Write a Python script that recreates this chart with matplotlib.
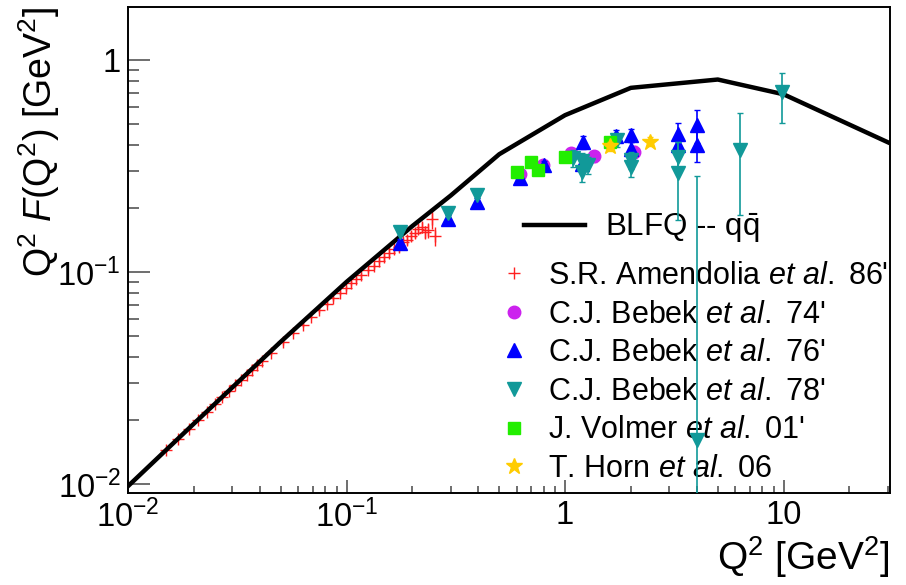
import matplotlib
matplotlib.use('Agg')
import matplotlib.pyplot as plt
from matplotlib.ticker import LogLocator, NullFormatter
from matplotlib.lines import Line2D

plt.rcParams['font.family'] = ['Liberation Sans', 'DejaVu Sans']
plt.rcParams['mathtext.fontset'] = 'custom'
plt.rcParams['mathtext.rm'] = 'Liberation Sans'
plt.rcParams['mathtext.it'] = 'Liberation Sans:italic'
plt.rcParams['mathtext.bf'] = 'Liberation Sans:bold'

# BLFQ curve
blfq_q2 = [0.01, 0.02, 0.05, 0.1, 0.2, 0.3, 0.5, 1.0, 2.0, 5.0, 10.0, 30.0]
blfq_f = [0.0098, 0.0193, 0.047, 0.09, 0.165, 0.23, 0.36, 0.55, 0.74, 0.81, 0.69, 0.41]

# S.R. Amendolia et al. 86'
amen_q2 = [0.015, 0.017, 0.019, 0.021, 0.023, 0.025, 0.027, 0.029, 0.031, 0.033,
           0.035, 0.037, 0.039, 0.041, 0.045, 0.051, 0.057, 0.063, 0.069, 0.075,
           0.081, 0.087, 0.093, 0.099, 0.105, 0.111, 0.117, 0.125, 0.133, 0.141,
           0.149, 0.157, 0.165, 0.173, 0.181, 0.189, 0.197, 0.205, 0.213, 0.221,
           0.229, 0.237, 0.245, 0.253]
amen_f = [0.0145, 0.0164, 0.0183, 0.0202, 0.0220, 0.0238, 0.0257, 0.0275, 0.0293, 0.0311,
          0.0329, 0.0346, 0.0364, 0.0381, 0.0416, 0.0467, 0.0517, 0.0566, 0.0615, 0.0662,
          0.0709, 0.0754, 0.0800, 0.0843, 0.0887, 0.0930, 0.0972, 0.1028, 0.1070, 0.1135,
          0.1180, 0.1230, 0.1285, 0.1310, 0.1386, 0.1420, 0.1480, 0.1525, 0.1600, 0.1630,
          0.1550, 0.1580, 0.1780, 0.1480]
amen_err = [0.0003, 0.0003, 0.0004, 0.0004, 0.0005, 0.0005, 0.0006, 0.0006, 0.0007, 0.0007,
            0.0008, 0.0008, 0.0009, 0.0009, 0.0010, 0.0011, 0.0012, 0.0014, 0.0015, 0.0017,
            0.0019, 0.0021, 0.0023, 0.0025, 0.0027, 0.0029, 0.0032, 0.0035, 0.0038, 0.0042,
            0.0046, 0.0050, 0.0055, 0.0060, 0.0065, 0.0070, 0.0076, 0.0083, 0.0090, 0.0098,
            0.0110, 0.0125, 0.0180, 0.0150]

# C.J. Bebek et al. 74'
b74_q2 = [0.62, 0.79, 1.07, 1.35, 2.07]
b74_f = [0.29, 0.32, 0.365, 0.352, 0.37]
b74_err = [0.015, 0.015, 0.02, 0.02, 0.025]

# C.J. Bebek et al. 76'
b76_q2 = [0.176, 0.29, 0.395, 0.62, 0.80, 1.19, 1.21, 1.71, 2.0, 2.0, 3.3, 3.3, 4.0, 4.0]
b76_f = [0.138, 0.179, 0.215, 0.277, 0.32, 0.325, 0.41, 0.44, 0.443, 0.383, 0.45, 0.397, 0.494, 0.40]
b76_err = [0.006, 0.008, 0.008, 0.015, 0.015, 0.03, 0.03, 0.03, 0.03, 0.03, 0.055, 0.04, 0.086, 0.07]

# C.J. Bebek et al. 78'
b78_q2 = [0.176, 0.29, 0.397, 1.09, 1.19, 1.19, 1.28, 1.72, 2.0, 2.0, 3.3, 3.3, 4.0, 6.3, 9.8]
b78_f = [0.155, 0.19, 0.231, 0.345, 0.335, 0.297, 0.32, 0.42, 0.337, 0.314, 0.35, 0.293, 0.0162, 0.377, 0.708]
b78_lo = [0.006, 0.008, 0.008, 0.03, 0.03, 0.03, 0.03, 0.03, 0.03, 0.034, 0.05, 0.117, 0.0161, 0.19, 0.205]
b78_hi = [0.006, 0.008, 0.008, 0.03, 0.03, 0.03, 0.03, 0.03, 0.03, 0.034, 0.06, 0.117, 0.268, 0.187, 0.163]

# J. Volmer et al. 01'
volmer_q2 = [0.60, 0.70, 0.75, 1.0, 1.6]
volmer_f = [0.297, 0.331, 0.303, 0.35, 0.412]
volmer_err = [0.015, 0.015, 0.015, 0.017, 0.02]

# T. Horn et al. 06
horn_q2 = [1.6, 2.45]
horn_f = [0.393, 0.412]
horn_err = [0.02, 0.02]

fig = plt.figure(figsize=(9.06, 5.85), dpi=100)
ax = fig.add_axes([128 / 906, 1 - 493 / 585, 762 / 906, 486 / 585])

ax.errorbar(amen_q2, amen_f, yerr=amen_err, fmt='+', color='#ff2020', ms=9, mew=1.0,
            elinewidth=1.0, capsize=0, zorder=2)
ax.plot(blfq_q2, blfq_f, color='black', lw=3.2, zorder=3)
ax.errorbar(b74_q2, b74_f, yerr=b74_err, fmt='o', color='#cc22ee', ms=9, elinewidth=1.2,
            capsize=2.5, zorder=4)
ax.errorbar(b76_q2, b76_f, yerr=b76_err, fmt='^', color='#0000ff', ms=9.5, elinewidth=1.2,
            capsize=2.5, zorder=5)
ax.errorbar(b78_q2, b78_f, yerr=[b78_lo, b78_hi], fmt='v', color='#119999', ms=9.5,
            elinewidth=1.2, capsize=2.5, zorder=6)
ax.errorbar(volmer_q2, volmer_f, yerr=volmer_err, fmt='s', color='#22ee00', ms=8.5,
            elinewidth=1.2, capsize=2.5, zorder=7)
ax.errorbar(horn_q2, horn_f, yerr=horn_err, fmt='*', color='#ffcc00', ms=12,
            elinewidth=1.2, capsize=2.5, zorder=8)

ax.set_xscale('log')
ax.set_yscale('log')
ax.set_xlim(0.01, 30.7)
ax.set_ylim(0.0091, 1.78)

ax.set_xticks([0.01, 0.1, 1, 10])
ax.set_xticklabels(['$10^{-2}$', '$10^{-1}$', '1', '10'])
ax.set_yticks([0.01, 0.1, 1])
ax.set_yticklabels(['$10^{-2}$', '$10^{-1}$', '1'])
ax.xaxis.set_minor_locator(LogLocator(base=10, subs=range(2, 10)))
ax.yaxis.set_minor_locator(LogLocator(base=10, subs=range(2, 10)))
ax.xaxis.set_minor_formatter(NullFormatter())
ax.yaxis.set_minor_formatter(NullFormatter())

ax.tick_params(axis='both', which='both', direction='in', color='#555555', width=1.2,
               labelsize=23.5)
ax.tick_params(axis='x', which='major', length=9.5, pad=5)
ax.tick_params(axis='x', which='minor', length=4.7)
ax.tick_params(axis='y', which='major', length=16, pad=5)
ax.tick_params(axis='y', which='minor', length=8)
for s in ax.spines.values():
    s.set_linewidth(1.4)

ax.set_xlabel('Q$^{2}$ [GeV$^{2}$]', fontsize=28, loc='right')
ax.xaxis.set_label_coords(1.0, -0.085)
ax.set_ylabel('Q$^{2}$ $\\mathit{F}$(Q$^{2}$) [GeV$^{2}$]', fontsize=27, loc='top')
ax.yaxis.set_label_coords(-0.086, 1.0)

# legends
h_line = [Line2D([], [], color='black', lw=3.2)]
leg1 = ax.legend(h_line, ['BLFQ -- $\\mathrm{q\\bar{q}}$'], loc='upper left',
                 bbox_to_anchor=(524 / 906, 1 - 211 / 585), bbox_transform=fig.transFigure,
                 frameon=False, fontsize=22.5, handlelength=1.95, handletextpad=0.65,
                 borderpad=0, borderaxespad=0)
ax.add_artist(leg1)

h_data = [Line2D([], [], ls='', marker='+', color='#ff2020', ms=9),
          Line2D([], [], ls='', marker='o', color='#cc22ee', ms=9),
          Line2D([], [], ls='', marker='^', color='#0000ff', ms=9.5),
          Line2D([], [], ls='', marker='v', color='#119999', ms=9.5),
          Line2D([], [], ls='', marker='s', color='#22ee00', ms=8.5),
          Line2D([], [], ls='', marker='*', color='#ffcc00', ms=12)]
labels = ["S.R. Amendolia $\\mathit{et\\ al.}$ 86'",
          "C.J. Bebek $\\mathit{et\\ al.}$ 74'",
          "C.J. Bebek $\\mathit{et\\ al.}$ 76'",
          "C.J. Bebek $\\mathit{et\\ al.}$ 78'",
          "J. Volmer $\\mathit{et\\ al.}$ 01'",
          "T. Horn $\\mathit{et\\ al.}$ 06"]
ax.legend(h_data, labels, loc='upper left',
          bbox_to_anchor=(499 / 906, 1 - 261 / 585), bbox_transform=fig.transFigure,
          frameon=False, fontsize=22, handlelength=1.0, handletextpad=0.62,
          labelspacing=0.28, borderpad=0, borderaxespad=0)

fig.savefig('out.png', dpi=100)
